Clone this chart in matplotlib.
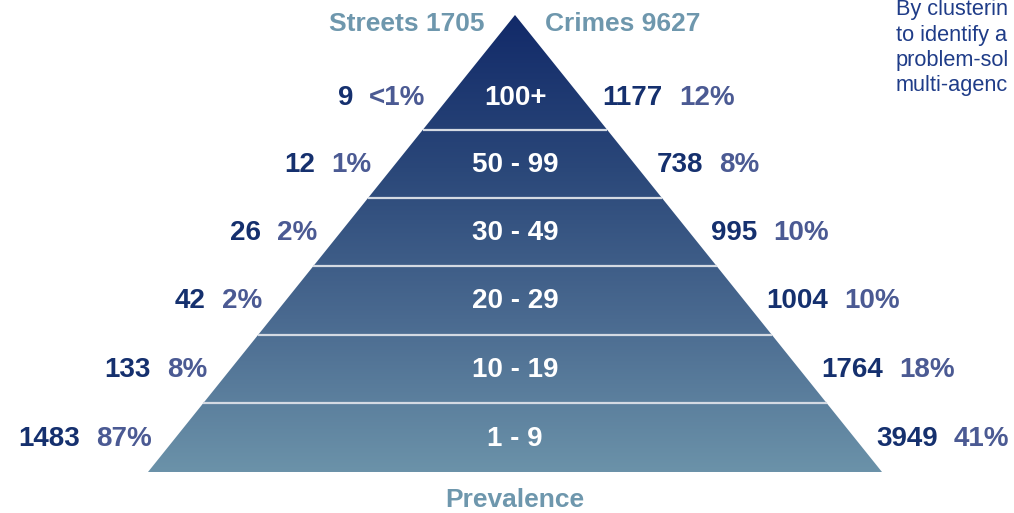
import numpy as np
import matplotlib.pyplot as plt
from matplotlib.colors import LinearSegmentedColormap
from matplotlib.patches import Polygon

plt.rcParams['font.family'] = ['Liberation Sans', 'DejaVu Sans']

# podaci
bands = ['100+', '50 - 99', '30 - 49', '20 - 29', '10 - 19', '1 - 9']
streets = [9, 12, 26, 42, 133, 1483]
streets_pct = ['<1%', '1%', '2%', '2%', '8%', '87%']
crimes = [1177, 738, 995, 1004, 1764, 3949]
crimes_pct = ['12%', '8%', '10%', '10%', '18%', '41%']
streets_total = 1705
crimes_total = 9627
side_text = ['By clusterin', 'to identify a', 'problem-sol', 'multi-agenc']  # odrezano na rubu slike

navy = '#15306e'
purple = '#4b5a93'
steel = '#6e97ad'

fig = plt.figure(figsize=(10.14, 5.13), dpi=100)
ax = fig.add_axes([0, 0, 1, 1])
ax.set_xlim(0, 1014)
ax.set_ylim(513, 0)
ax.axis('off')

# geometrija piramide
apex_x, apex_y = 515, 15
base_y, half_base = 472, 367
cuts = [apex_y, 130, 198, 266, 335, 403, base_y]

def edge(y):
    return half_base * (y - apex_y) / (base_y - apex_y)

tri = Polygon([(apex_x, apex_y), (apex_x + half_base, base_y), (apex_x - half_base, base_y)],
              closed=True, facecolor='none', edgecolor='none')
ax.add_patch(tri)

cmap = LinearSegmentedColormap.from_list('pyr', ['#122a69', '#2a4779', '#4a6a90', '#6b92a9'])
grad = np.linspace(0, 1, 256).reshape(-1, 1)
im = ax.imshow(grad, cmap=cmap, aspect='auto', origin='upper',
               extent=(apex_x - half_base, apex_x + half_base, base_y, apex_y))
im.set_clip_path(tri)

for y in cuts[1:-1]:
    w = edge(y)
    ax.plot([apex_x - w, apex_x + w], [y, y], color='#d4dae3', lw=1.6, solid_capstyle='butt')

fig.canvas.draw()
r = fig.canvas.get_renderer()
inv = ax.transData.inverted()

def width(t):
    bb = t.get_window_extent(r)
    p0 = inv.transform((bb.x0, bb.y0))
    p1 = inv.transform((bb.x1, bb.y1))
    return p1[0] - p0[0]

fs = 20
gap = 16
for i, lab in enumerate(bands):
    if i == 0:
        yc = 98
    else:
        yc = (cuts[i] + cuts[i + 1]) / 2 + 1
    ax.text(apex_x, yc, lab, color='white', fontsize=fs, fontweight='bold', ha='center', va='center')
    w = edge(yc)
    # lijevo: ulice
    xl = apex_x - w - 23
    tp = ax.text(xl, yc, streets_pct[i], color=purple, fontsize=fs, fontweight='bold', ha='right', va='center')
    ax.text(xl - width(tp) - gap, yc, str(streets[i]), color=navy, fontsize=fs, fontweight='bold', ha='right', va='center')
    # desno: kaznena djela
    xr = apex_x + w + 21
    tn = ax.text(xr, yc, str(crimes[i]), color=navy, fontsize=fs, fontweight='bold', ha='left', va='center')
    ax.text(xr + width(tn) + gap, yc, crimes_pct[i], color=purple, fontsize=fs, fontweight='bold', ha='left', va='center')

ax.text(407, 24, f'Streets {streets_total}', color=steel, fontsize=19, fontweight='bold', ha='center', va='center')
ax.text(623, 24, f'Crimes {crimes_total}', color=steel, fontsize=19, fontweight='bold', ha='center', va='center')
ax.text(apex_x, 500, 'Prevalence', color=steel, fontsize=19, fontweight='bold', ha='center', va='center')

for k, s in enumerate(side_text):
    ax.text(896, 15 + 25.5 * k, s, color='#1f3c88', fontsize=15.7, ha='left', va='baseline')

fig.savefig('out.png', dpi=100)
